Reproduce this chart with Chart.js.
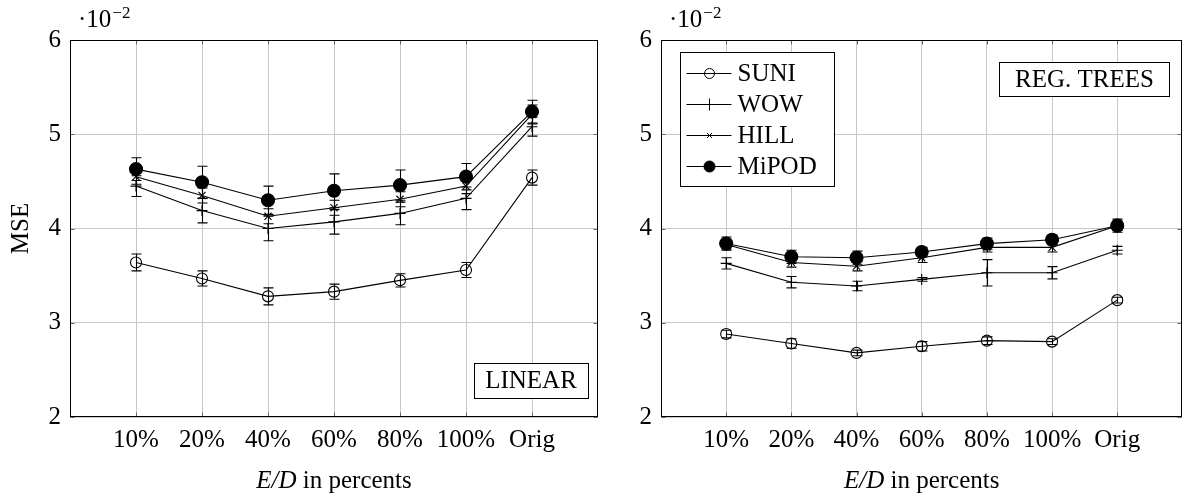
<!DOCTYPE html>
<html>
<head>
<meta charset="utf-8">
<script src="https://cdn.jsdelivr.net/npm/chart.js@4.4.1/dist/chart.umd.min.js"></script>
<style>
  html, body { margin: 0; padding: 0; background: #ffffff; }
  #w1 { position: absolute; left: 0; top: 0; width: 620px; height: 496px; }
  #w2 { position: absolute; left: 620px; top: 0; width: 570px; height: 496px; }
</style>
</head>
<body>
<div id="w1"><canvas id="c1" width="620" height="496"></canvas></div>
<div id="w2"><canvas id="c2" width="570" height="496"></canvas></div>
<script>
// ---------- data ----------
const categories = ['10%', '20%', '40%', '60%', '80%', '100%', 'Orig'];
const yTickValues = [2, 3, 4, 5, 6];
const seriesNames = ['SUNI', 'WOW', 'HILL', 'MiPOD'];

// LINEAR panel (MSE in units of 1e-2)
const linSUNI      = [3.64, 3.47, 3.28, 3.33, 3.45, 3.56, 4.54];
const linSUNIErr   = [0.09, 0.08, 0.09, 0.08, 0.07, 0.08, 0.08];
const linWOW       = [4.45, 4.19, 4.00, 4.07, 4.16, 4.32, 5.08];
const linWOWErr    = [0.11, 0.13, 0.13, 0.13, 0.12, 0.12, 0.10];
const linHILL      = [4.55, 4.35, 4.13, 4.22, 4.31, 4.45, 5.21];
const linHILLErr   = [0.08, 0.08, 0.08, 0.08, 0.08, 0.08, 0.10];
const linMiPOD     = [4.63, 4.49, 4.30, 4.40, 4.46, 4.55, 5.24];
const linMiPODErr  = [0.12, 0.17, 0.15, 0.18, 0.16, 0.14, 0.12];

// REG. TREES panel
const treeSUNI     = [2.88, 2.78, 2.68, 2.75, 2.81, 2.80, 3.24];
const treeSUNIErr  = [0.04, 0.05, 0.03, 0.05, 0.04, 0.03, 0.03];
const treeWOW      = [3.63, 3.43, 3.39, 3.46, 3.53, 3.53, 3.77];
const treeWOWErr   = [0.06, 0.06, 0.05, 0.02, 0.14, 0.065, 0.04];
const treeHILL     = [3.83, 3.64, 3.60, 3.69, 3.80, 3.80, 4.03];
const treeHILLErr  = [0.05, 0.05, 0.05, 0.05, 0.05, 0.05, 0.05];
const treeMiPOD    = [3.84, 3.70, 3.69, 3.75, 3.84, 3.88, 4.03];
const treeMiPODErr = [0.07, 0.07, 0.07, 0.05, 0.06, 0.05, 0.07];

// ---------- styling ----------
const FONT = "'Liberation Serif', 'DejaVu Serif', serif";
const FS = 25;
Chart.defaults.font.family = FONT;
Chart.defaults.font.size = FS;
Chart.defaults.color = '#000';

const markerStyles = [
  { pointStyle: 'circle',   radius: 5.5, fill: 'rgba(0,0,0,0)', lr: 5 },
  { pointStyle: 'cross',    radius: 5.5, fill: 'rgba(0,0,0,0)', lr: 6 },
  { pointStyle: 'crossRot', radius: 5,   fill: 'rgba(0,0,0,0)', lr: 3.5 },
  { pointStyle: 'circle',   radius: 6.5, fill: '#000',          lr: 5.5 }
];

function makeDatasets(values, errs) {
  return values.map((vals, k) => ({
    label: seriesNames[k],
    data: vals.map((v, i) => ({ x: i + 1, y: v })),
    errors: errs[k],
    borderColor: '#000',
    borderWidth: 1.1,
    pointStyle: markerStyles[k].pointStyle,
    pointRadius: markerStyles[k].radius,
    pointHoverRadius: markerStyles[k].radius,
    pointBackgroundColor: markerStyles[k].fill,
    pointBorderColor: '#000',
    pointBorderWidth: 1.1,
    legendRadius: markerStyles[k].lr,
    tension: 0,
    fill: false,
    clip: false
  }));
}

const panelPlugin = {
  id: 'panel',
  beforeDatasetsDraw(chart) {
    const ctx = chart.ctx;
    const xs = chart.scales.x, ys = chart.scales.y;
    ctx.save();
    ctx.strokeStyle = '#000';
    ctx.lineWidth = 1.1;
    chart.data.datasets.forEach(ds => {
      ds.data.forEach((p, i) => {
        const e = ds.errors[i];
        const x = Math.round(xs.getPixelForValue(p.x)) + 0.5;
        const y1 = ys.getPixelForValue(p.y + e);
        const y2 = ys.getPixelForValue(p.y - e);
        ctx.beginPath();
        ctx.moveTo(x, y1); ctx.lineTo(x, y2);
        ctx.moveTo(x - 5, y1); ctx.lineTo(x + 5, y1);
        ctx.moveTo(x - 5, y2); ctx.lineTo(x + 5, y2);
        ctx.stroke();
      });
    });
    ctx.restore();
  },
  afterDraw(chart) {
    const o = chart.options.plugins.panel;
    const ctx = chart.ctx;
    const a = chart.chartArea;
    const xs = chart.scales.x, ys = chart.scales.y;
    const L = Math.round(a.left) + 0.5, R = Math.round(a.right) - 0.5;
    const T = Math.round(a.top) + 0.5, B = Math.round(a.bottom) - 0.5;
    ctx.save();
    // small inner tick marks
    ctx.strokeStyle = '#666';
    ctx.lineWidth = 1;
    ctx.beginPath();
    yTickValues.forEach(v => {
      const y = Math.round(ys.getPixelForValue(v)) + 0.5;
      ctx.moveTo(L, y); ctx.lineTo(L + 4, y);
      ctx.moveTo(R, y); ctx.lineTo(R - 4, y);
    });
    categories.forEach((c, i) => {
      const x = Math.round(xs.getPixelForValue(i + 1)) + 0.5;
      ctx.moveTo(x, B); ctx.lineTo(x, B - 4);
      ctx.moveTo(x, T); ctx.lineTo(x, T + 4);
    });
    ctx.stroke();
    // frame
    ctx.strokeStyle = '#000';
    ctx.strokeRect(L, T, R - L, B - T);

    // exponent label
    ctx.fillStyle = '#000';
    ctx.textBaseline = 'alphabetic';
    ctx.textAlign = 'left';
    ctx.font = FS + 'px ' + FONT;
    const ex = a.left + 8, ey = 27;
    ctx.fillText('\u00B710', ex, ey);
    const w10 = ctx.measureText('\u00B710').width;
    ctx.font = '17px ' + FONT;
    ctx.fillText('\u22122', ex + w10 + 1, ey - 9);

    // x-axis title: "E/D in percents"
    const t1 = 'E/D', t2 = ' in percents';
    ctx.font = 'italic ' + FS + 'px ' + FONT;
    const w1 = ctx.measureText(t1).width;
    ctx.font = FS + 'px ' + FONT;
    const w2 = ctx.measureText(t2).width;
    const cx = (a.left + a.right) / 2;
    const sx = cx - (w1 + w2) / 2;
    ctx.font = 'italic ' + FS + 'px ' + FONT;
    ctx.fillText(t1, sx, 488);
    ctx.font = FS + 'px ' + FONT;
    ctx.fillText(t2, sx + w1, 488);

    // panel label box
    const b = o.labelBox;
    const bx = b.fromRight ? a.right - b.dx - b.w : a.left + b.dx;
    const by = b.fromBottom ? a.bottom - b.dy - b.h : a.top + b.dy;
    ctx.fillStyle = '#fff';
    ctx.fillRect(Math.round(bx) + 0.5, Math.round(by) + 0.5, b.w, b.h);
    ctx.strokeStyle = '#000';
    ctx.strokeRect(Math.round(bx) + 0.5, Math.round(by) + 0.5, b.w, b.h);
    ctx.fillStyle = '#000';
    ctx.textAlign = 'center';
    ctx.textBaseline = 'middle';
    ctx.font = FS + 'px ' + FONT;
    ctx.fillText(o.label, bx + b.w / 2, by + b.h / 2 + 1);

    // legend
    if (o.legend) {
      const lx = Math.round(a.left + 19) + 0.5, ly = Math.round(a.top + 12) + 0.5;
      const lw = 154, lh = 134;
      ctx.fillStyle = '#fff';
      ctx.fillRect(lx, ly, lw, lh);
      ctx.strokeStyle = '#000';
      ctx.strokeRect(lx, ly, lw, lh);
      chart.data.datasets.forEach((ds, k) => {
        const yy = Math.round(ly + 20 + k * 31) + 0.5;
        ctx.strokeStyle = '#000';
        ctx.lineWidth = 1;
        ctx.beginPath();
        ctx.moveTo(lx + 6, yy); ctx.lineTo(lx + 51, yy);
        ctx.stroke();
        ctx.fillStyle = ds.pointBackgroundColor;
        Chart.helpers.drawPoint(ctx, {
          pointStyle: ds.pointStyle, radius: ds.legendRadius, rotation: 0, borderWidth: 1
        }, lx + 29, yy);
        ctx.fillStyle = '#000';
        ctx.textAlign = 'left';
        ctx.textBaseline = 'middle';
        ctx.font = FS + 'px ' + FONT;
        ctx.fillText(ds.label, lx + 57, yy + 1);
      });
    }
    ctx.restore();
  }
};

function makeChart(canvasId, datasets, cfg) {
  return new Chart(document.getElementById(canvasId), {
    type: 'line',
    data: { datasets },
    plugins: [panelPlugin],
    options: {
      responsive: false,
      animation: false,
      events: [],
      layout: { padding: { left: 0, top: 40, right: cfg.padRight, bottom: 0 } },
      plugins: {
        legend: { display: false },
        tooltip: { enabled: false },
        panel: cfg.panel
      },
      scales: {
        x: {
          type: 'linear',
          position: 'bottom',
          min: 0, max: 8,
          afterBuildTicks: s => { s.ticks = categories.map((c, i) => ({ value: i + 1 })); },
          afterFit: s => { s.height = 79; },
          ticks: {
            callback: v => categories[v - 1],
            autoSkip: false, maxRotation: 0, padding: 8,
            font: { size: FS, family: FONT }, color: '#000'
          },
          grid: { color: '#c8c8c8', lineWidth: 1, drawTicks: false },
          border: { display: false }
        },
        y: {
          type: 'linear',
          position: 'left',
          min: 2, max: 6,
          afterBuildTicks: s => { s.ticks = yTickValues.map(v => ({ value: v })); },
          afterFit: s => { s.width = cfg.yWidth; },
          ticks: {
            padding: 9,
            font: { size: FS, family: FONT }, color: '#000'
          },
          grid: { color: '#c8c8c8', lineWidth: 1, drawTicks: false },
          border: { display: false },
          title: {
            display: !!cfg.yTitle,
            text: cfg.yTitle || '',
            font: { size: FS, family: FONT }, color: '#000',
            padding: { top: 6, bottom: 0 }
          }
        }
      }
    }
  });
}

makeChart('c1',
  makeDatasets([linSUNI, linWOW, linHILL, linMiPOD],
               [linSUNIErr, linWOWErr, linHILLErr, linMiPODErr]),
  {
    padRight: 22, yWidth: 70, yTitle: 'MSE',
    panel: { label: 'LINEAR', legend: false,
             labelBox: { fromRight: true, fromBottom: true, dx: 10, dy: 19, w: 114, h: 35 } }
  });

makeChart('c2',
  makeDatasets([treeSUNI, treeWOW, treeHILL, treeMiPOD],
               [treeSUNIErr, treeWOWErr, treeHILLErr, treeMiPODErr]),
  {
    padRight: 1, yWidth: 41, yTitle: null,
    panel: { label: 'REG. TREES', legend: true,
             labelBox: { fromRight: true, fromBottom: false, dx: 13, dy: 22, w: 170, h: 34 } }
  });
</script>
</body>
</html>
